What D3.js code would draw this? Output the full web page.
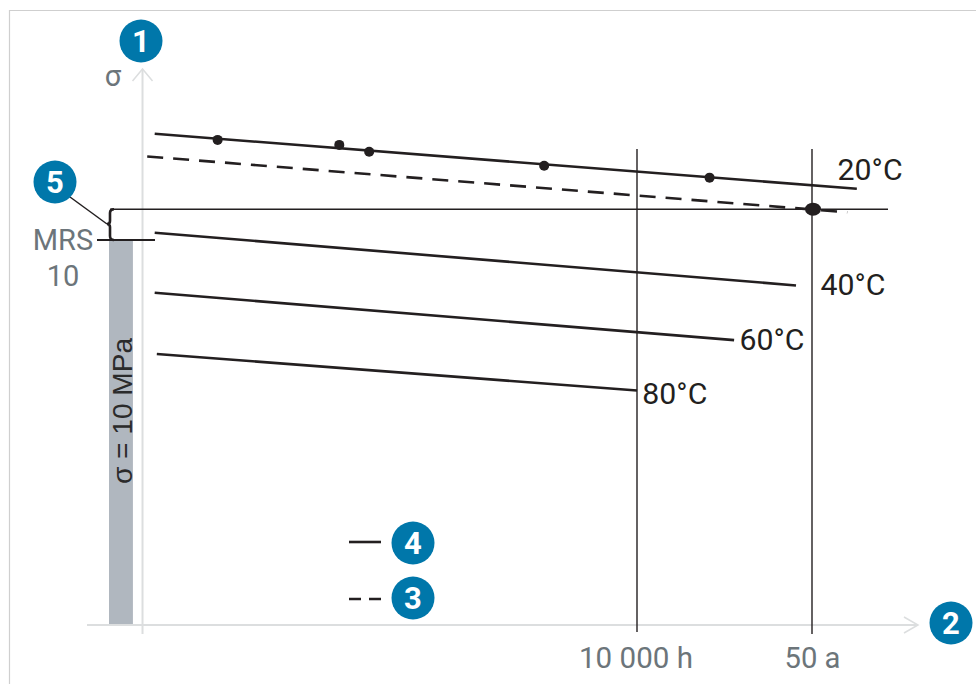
<!DOCTYPE html>
<html><head><meta charset="utf-8">
<style>html,body{margin:0;padding:0;background:#fff}svg{display:block}text{font-family:Roboto,"Noto Sans",sans-serif}</style>
<script src="https://cdn.jsdelivr.net/npm/d3@7"></script></head>
<body><svg id="c" width="976" height="684"></svg>
<script>
// x = log10(hours), y = stress in MPa
const regressionLabels = ["20°C","40°C","60°C","80°C"];
const regressionStart = [[-0.52,12.76],[-0.52,10.19],[-0.52,8.63],[-0.50,7.04]];
const regressionEnd = [[6.06,11.33],[5.49,8.82],[4.91,7.40],[4.00,6.09]];
const labelAnchor = [[5.88,11.55],[5.72,8.57],[4.96,7.14],[4.05,5.75]];
const lowerLimitStart = [-0.59,12.17];
const lowerLimitEnd = [5.97,10.72];
const pointsX = [0.07,1.21,1.49,3.13,4.68];
const pointsY = [12.60,12.47,12.29,11.93,11.62];
const tickValues = [4,5.64];
const tickLabels = ["10 000 h","50 a"];
const mrsValue = 10, sigmaLCL = 10.8;
const legendKeys = ["4","3"];
const barLabel = "σ = 10 MPa";

const x = d3.scaleLinear().domain([4,5.64]).range([637,812]);
const y = d3.scaleLinear().domain([0,10]).range([625,240]);
const svg = d3.select("#c");
const ink="#231f20", axisC="#dcdedf", grey="#6c757a", blue="#0077aa";

// frame
svg.append("path").attr("d","M976,10.5H9.5V684").attr("fill","none").attr("stroke","#cfcfcf").attr("stroke-width",1.2);

// bar
svg.append("rect").attr("x",x(-0.948)).attr("width",x(-0.724)-x(-0.948))
  .attr("y",y(mrsValue)).attr("height",y(0)-y(mrsValue)).attr("fill","#b0b7bf");

// axes arrows
const ax=svg.append("g").attr("fill","none").attr("stroke",axisC);
ax.append("path").attr("d",`M${x(-0.634)},${y(0)+9}V70`).attr("stroke-width",2);
ax.append("path").attr("d",`M${x(-0.634)-10},81L${x(-0.634)},69L${x(-0.634)+10},81`).attr("stroke-width",1.5);
ax.append("path").attr("d",`M87,${y(0)}H917`).attr("stroke-width",2);
ax.append("path").attr("d",`M904,${y(0)-8}L918,${y(0)}L904,${y(0)+8}`).attr("stroke-width",1.5);

// time axis labels through d3 axis
const axis=d3.axisBottom(x).tickValues(tickValues).tickSize(0).tickPadding(0)
  .tickFormat((d,i)=>tickLabels[i]);
const gx=svg.append("g").attr("transform","translate(0,644)").call(axis);
gx.select(".domain").remove();
gx.selectAll("text").attr("font-size",29).attr("fill",grey).attr("dy",null).attr("y",24)
  .attr("x",(d,i)=>i?0:-1.5)
  .style("font-family","Roboto,sans-serif").attr("textLength",(d,i)=>i?56:114).attr("lengthAdjust","spacingAndGlyphs");

// vertical reference lines
svg.selectAll("line.v").data(tickValues).join("line").attr("class","v")
  .attr("x1",d=>x(d)).attr("x2",d=>x(d)).attr("y1",149).attr("y2",(d,i)=>i?634:632)
  .attr("stroke",ink).attr("stroke-width",1.4);

// horizontal LCL line and MRS tick
svg.append("line").attr("x1",110).attr("x2",888).attr("y1",y(sigmaLCL)).attr("y2",y(sigmaLCL)).attr("stroke",ink).attr("stroke-width",1.4);
svg.append("line").attr("x1",97).attr("x2",155).attr("y1",y(mrsValue)).attr("y2",y(mrsValue)).attr("stroke",ink).attr("stroke-width",2.2);

// brace
svg.append("path").attr("d",`M114,${y(sigmaLCL)}Q110,${y(sigmaLCL)} 110,213V221Q110,224 107,224Q110,224 110,227V236Q110,${y(mrsValue)} 114,${y(mrsValue)}`)
  .attr("fill","none").attr("stroke",ink).attr("stroke-width",2.6);
svg.append("line").attr("x1",70).attr("y1",197).attr("x2",107).attr("y2",224).attr("stroke",ink).attr("stroke-width",1.5);

// regression lines
const line=d3.line().x(d=>x(d[0])).y(d=>y(d[1]));
regressionStart.forEach((s,i)=>{
  svg.append("path").attr("d",line([s,regressionEnd[i]])).attr("fill","none").attr("stroke",ink).attr("stroke-width",2.6);
  svg.append("text").attr("x",x(labelAnchor[i][0])).attr("y",y(labelAnchor[i][1])).attr("font-size",29).attr("fill",ink)
    .attr("textLength",65).attr("lengthAdjust","spacingAndGlyphs").text(regressionLabels[i]);
});
svg.append("path").attr("d",line([lowerLimitStart,lowerLimitEnd])).attr("fill","none").attr("stroke",ink).attr("stroke-width",2.6).attr("stroke-dasharray","16 10");

// data points
svg.selectAll("circle.p").data(pointsX).join("circle").attr("class","p")
  .attr("cx",d=>x(d)).attr("cy",(d,i)=>y(pointsY[i])).attr("r",5).attr("fill",ink);
svg.append("ellipse").attr("cx",813).attr("cy",y(sigmaLCL)).attr("rx",8).attr("ry",6.5).attr("fill",ink);

// text labels
svg.append("text").attr("x",113).attr("y",86).attr("text-anchor","middle").attr("font-size",29).attr("fill",grey).text("σ");
svg.append("text").attr("x",63).attr("y",250).attr("text-anchor","middle").attr("font-size",29).attr("fill",grey).text("MRS");
svg.append("text").attr("x",63).attr("y",286).attr("text-anchor","middle").attr("font-size",29).attr("fill",grey).text(mrsValue);
svg.append("text").attr("transform","translate(131.5,411) rotate(-90)").attr("text-anchor","middle")
  .attr("font-size",28).attr("fill","#2b2b2b").style("font-family","'Liberation Sans',sans-serif")
  .attr("textLength",146).attr("lengthAdjust","spacingAndGlyphs").text(barLabel);

// legend samples
svg.append("line").attr("x1",349).attr("x2",381).attr("y1",542).attr("y2",542).attr("stroke",ink).attr("stroke-width",2.6);
svg.append("line").attr("x1",349).attr("x2",381).attr("y1",599).attr("y2",599).attr("stroke",ink).attr("stroke-width",2.6).attr("stroke-dasharray","12 8");

// badges
const badgeText=["1","2",legendKeys[1],legendKeys[0],"5"];
const badgeX=[141,951,413,413,55], badgeY=[41,623,598,543,182];
badgeText.forEach((t,i)=>{
  svg.append("circle").attr("cx",badgeX[i]).attr("cy",badgeY[i]).attr("r",21.5).attr("fill",blue);
  svg.append("text").attr("x",badgeX[i]).attr("y",badgeY[i]+11).attr("text-anchor","middle").attr("font-size",31).attr("font-weight",700).attr("fill","#fff").text(t);
});
</script></body></html>
